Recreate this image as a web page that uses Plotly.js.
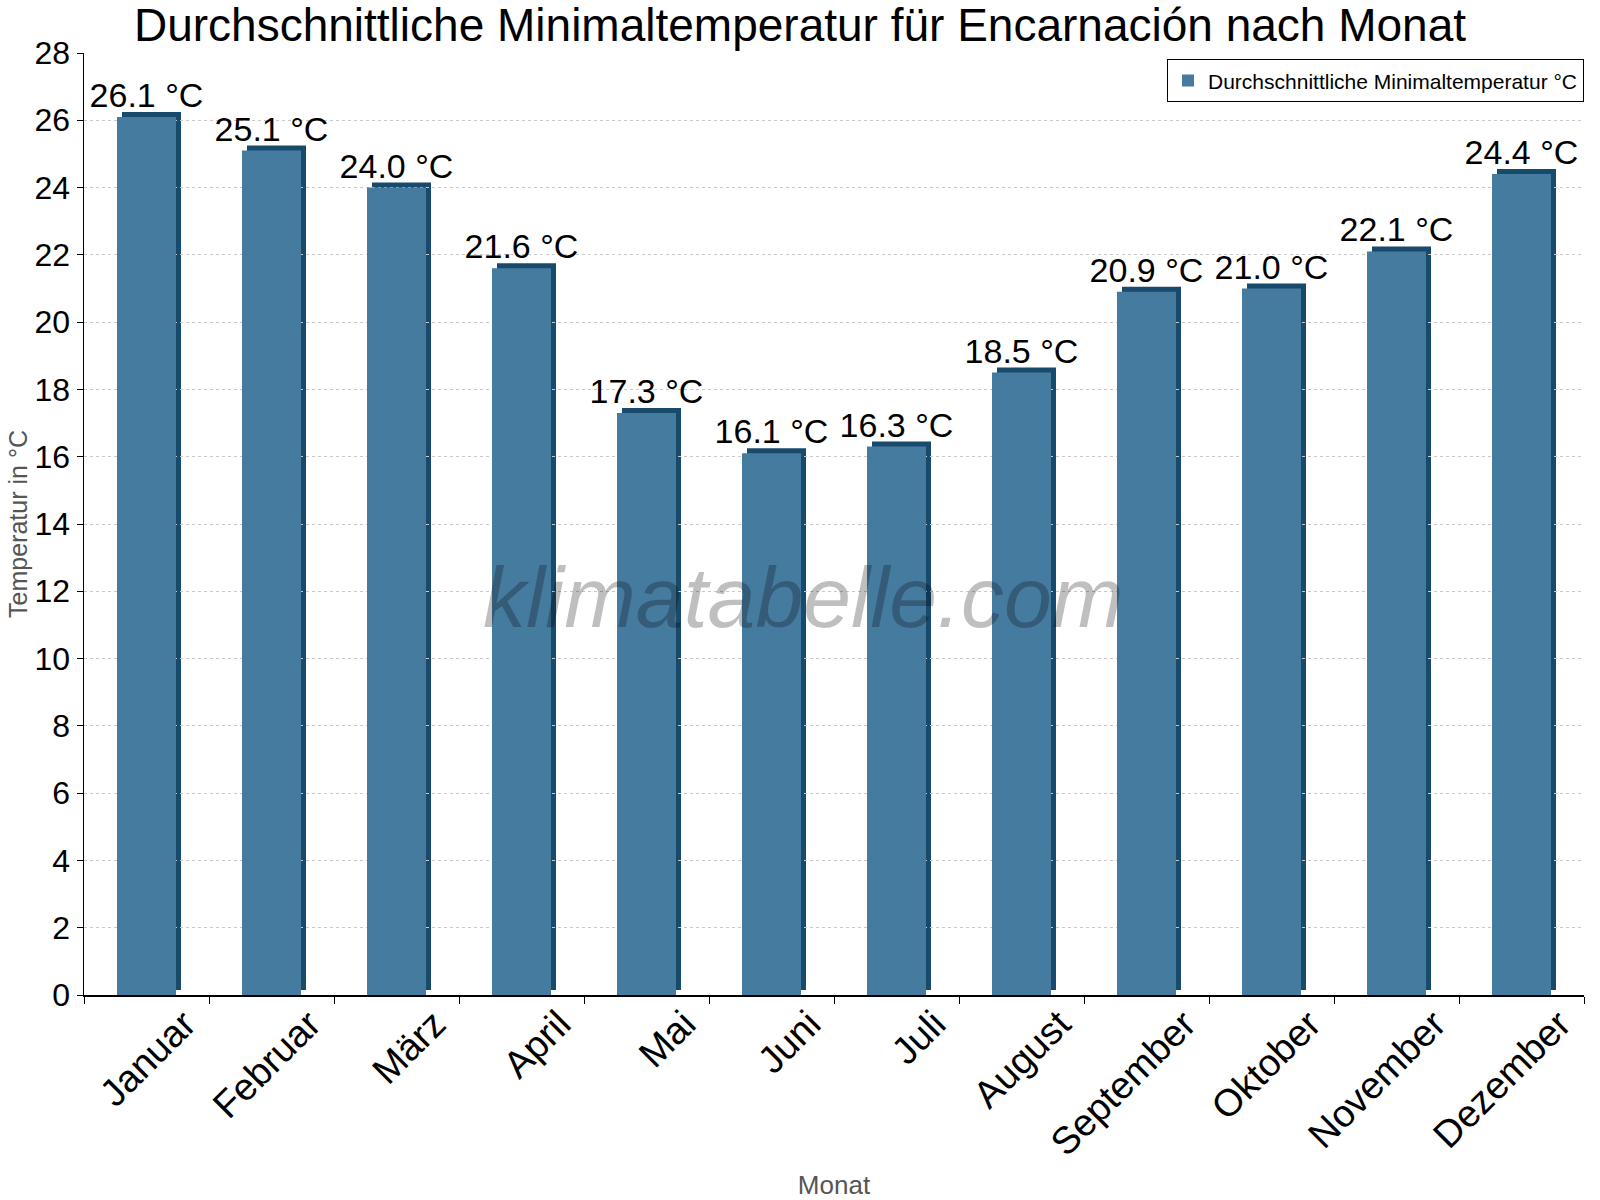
<!DOCTYPE html>
<html>
<head>
<meta charset="utf-8">
<script src="https://cdn.plot.ly/plotly-3.0.1.min.js"></script>
<style>html,body{margin:0;padding:0;background:#fff}</style>
</head>
<body>
<div id="chart" style="width:1600px;height:1200px"></div>
<script>
const months = ["Januar","Februar","März","April","Mai","Juni","Juli","August","September","Oktober","November","Dezember"];
const minTemp = [26.1, 25.1, 24.0, 21.6, 17.3, 16.1, 16.3, 18.5, 20.9, 21.0, 22.1, 24.4];
const seriesName = "Durchschnittliche Minimaltemperatur °C";
const yTicks = [0,2,4,6,8,10,12,14,16,18,20,22,24,26,28];

const FONT = "Liberation Sans, Arial, sans-serif";
const frontColor = "#467ba0";
const darkColor = "#184a6c";
const barW = 0.472;
const shiftX = 0.04;
const plotH = 947, shiftPx = 5;
const d = shiftPx / plotH;

const labels = minTemp.map(v => v.toFixed(1) + " °C");

// shadow bars: own subplot, shifted up a few px, drawn first
const dark = {
  type: "bar", x: months, y: minTemp, xaxis: "x", yaxis: "y",
  width: barW, offset: -barW/2 + shiftX,
  marker: {color: darkColor}, showlegend: false, hoverinfo: "skip"
};
// front bars
const front = {
  type: "bar", x: months, y: minTemp, xaxis: "x", yaxis: "y2",
  name: seriesName,
  width: barW, offset: -barW/2,
  marker: {color: frontColor},
  text: labels, textposition: "outside", cliponaxis: false, constraintext: "none",
  textfont: {family: FONT, size: 34, color: "#000"}
};

const layout = {
  width: 1600, height: 1200,
  margin: {l: 84, r: 16, t: 48, b: 205},
  paper_bgcolor: "#fff", plot_bgcolor: "rgba(0,0,0,0)",
  font: {family: FONT, color: "#000"},
  title: {text: "Durchschnittliche Minimaltemperatur für Encarnación nach Monat",
          font: {family: FONT, size: 46, color: "#000"},
          xref: "container", x: 0.5, xanchor: "center",
          yref: "container", y: 1 - 25/1200, yanchor: "middle"},
  barmode: "overlay",
  showlegend: true,
  legend: {x: 1, xanchor: "right", y: 0.988, yanchor: "top",
           bordercolor: "#000", borderwidth: 1, bgcolor: "#fff",
           font: {family: FONT, size: 21, color: "#000"}},
  xaxis: {type: "category", anchor: "y2", tickson: "boundaries", ticks: "outside", ticklen: 7,
          tickcolor: "#000", showline: true, linecolor: "#000", linewidth: 1.5,
          tickangle: -45, ticklabelshift: 38, ticklabelstandoff: -10,
          tickfont: {family: FONT, size: 38, color: "#000"},
          title: {text: "Monat", font: {family: FONT, size: 26, color: "#555"}, standoff: 110},
          showgrid: false},
  yaxis: {domain: [d, 1], anchor: "x", range: [0, 28], visible: false, showgrid: false, zeroline: false, fixedrange: true},
  yaxis2: {domain: [0, 1 - d], anchor: "x", range: [0, 28], tickvals: yTicks,
          ticks: "outside", ticklen: 6,
          tickcolor: "#000", showline: true, linecolor: "#000", linewidth: 1.5,
          tickfont: {family: FONT, size: 32, color: "#000"},
          showgrid: true, gridcolor: "#c8c8c8", griddash: "dot", gridwidth: 1, zeroline: false,
          title: {text: "Temperatur in °C", font: {family: FONT, size: 25, color: "#555"}, standoff: 0}},
  annotations: [{
    text: "klimatabelle.com", xref: "paper", yref: "paper", x: 0.479, y: 0.42,
    xanchor: "center", yanchor: "middle", showarrow: false,
    font: {family: FONT, size: 86, color: "rgba(0,0,0,0.25)", style: "italic"}
  }]
};

Plotly.newPlot("chart", [dark, front], layout, {displayModeBar: false, staticPlot: true});
</script>
</body>
</html>
